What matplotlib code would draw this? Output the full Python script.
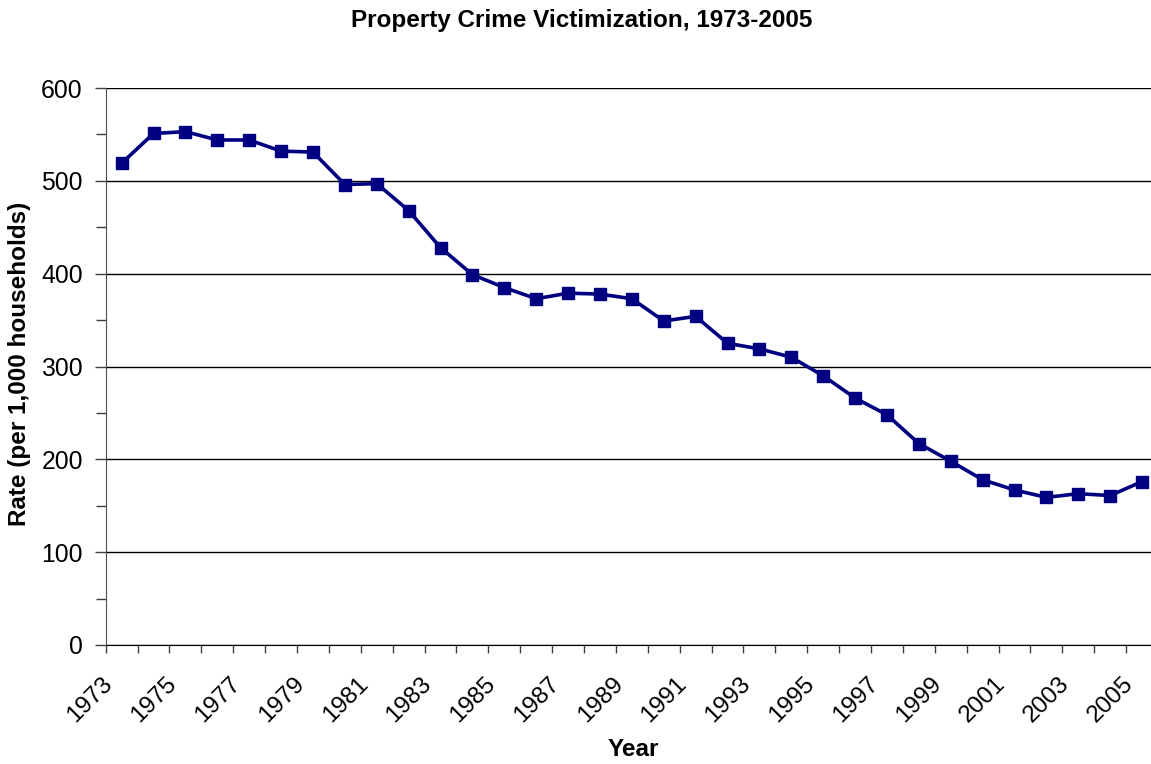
import matplotlib
matplotlib.use("Agg")
import matplotlib.pyplot as plt
from matplotlib.ticker import MultipleLocator, FixedLocator, NullFormatter
import matplotlib.transforms as mtransforms

plt.rcParams['font.family'] = ['Liberation Sans', 'DejaVu Sans']

years = list(range(1973, 2006))
rates = [519, 551, 553, 544, 544, 532, 531, 496, 497, 468, 428, 399,
         385, 373, 379, 378, 373, 349, 354, 325, 319, 310, 290, 266,
         248, 217, 198, 178, 167, 159, 163, 161, 176]
title = "Property Crime Victimization, 1973-2005"
xlabel = "Year"
ylabel = "Rate (per 1,000 households)"

W, H = 1151, 764
fig = plt.figure(figsize=(W / 100, H / 100), dpi=100)
left, right, top, bottom = 105.7, 1158.0, 88.0, 645.0
ax = fig.add_axes([left / W, 1 - bottom / H, (right - left) / W, (bottom - top) / H])

x = list(range(len(years)))
ax.plot(x, rates, color='#000080', lw=2.6, marker='s', ms=8.3,
        mfc='#000080', mec='#000080', zorder=3, clip_on=False)

ax.set_xlim(-0.5, len(years) - 0.5)
ax.set_ylim(0, 600)

# y axis
ax.yaxis.set_major_locator(MultipleLocator(100))
ax.yaxis.set_minor_locator(MultipleLocator(50))
ax.tick_params(axis='y', which='major', direction='out', length=8, width=1,
               labelsize=17.8, pad=8.5, color='#404040')
ax.tick_params(axis='y', which='minor', direction='out', length=7, width=1,
               color='#404040')
ax.grid(axis='y', which='major', color='black', lw=1)
ax.set_axisbelow(True)

# x axis: ticks at category boundaries
ax.xaxis.set_major_locator(FixedLocator([i - 0.5 for i in range(len(years) + 1)]))
ax.xaxis.set_major_formatter(NullFormatter())
ax.tick_params(axis='x', which='major', direction='out', length=6, width=1,
               color='#404040')

trans = mtransforms.blended_transform_factory(ax.transData, ax.transAxes)
trans = mtransforms.offset_copy(trans, fig=fig, x=-20, y=-28, units='dots')
for i, yr in enumerate(years):
    if i % 2 == 0:
        ax.text(i, 0, str(yr), transform=trans, rotation=45, rotation_mode='anchor',
                ha='right', va='top', fontsize=17.5)

for s in ['top', 'right']:
    ax.spines[s].set_visible(False)
ax.spines['left'].set_color('#505050')
ax.spines['bottom'].set_color('black')

fig.text(581.5 / W, 1 - 20 / H, title, ha='center', va='center',
         fontsize=17.5, fontweight='bold')
fig.text(633 / W, 1 - 750 / H, xlabel, ha='center', va='center',
         fontsize=17.5, fontweight='bold')
fig.text(20 / W, 1 - 364 / H, ylabel, ha='center', va='center', rotation=90,
         fontsize=17.5, fontweight='bold')

fig.savefig("out.png", dpi=100)
